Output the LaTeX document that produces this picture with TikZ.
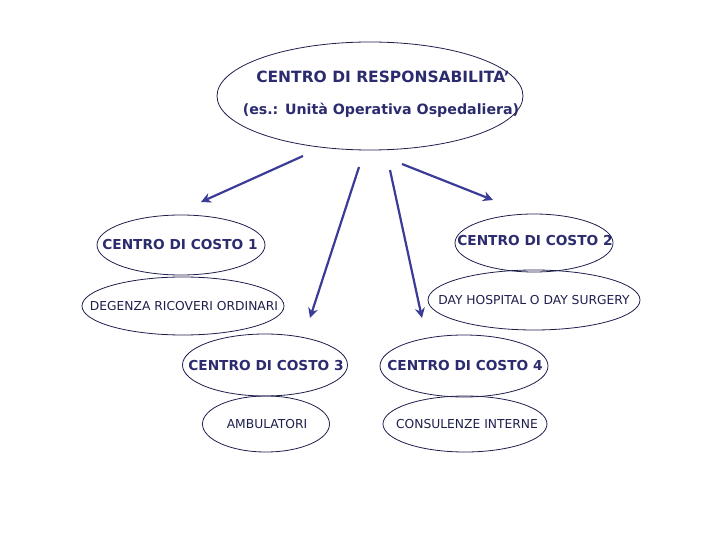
\documentclass[tikz,border=0pt]{standalone}
\usepackage{fontspec}
\setmainfont{DejaVu Sans}
\usetikzlibrary{shapes.geometric,arrows.meta}
\definecolor{navy}{HTML}{2B2B6E}
\definecolor{arrowblue}{HTML}{3B3B98}
\tikzset{
  oval/.style={ellipse, draw=navy!70!black, line width=0.8pt, inner sep=0pt},
  bigtxt/.style={text=navy, inner sep=0pt, font=\fontsize{13.7}{15}\selectfont\bfseries},
  smalltxt/.style={text=navy!70!black, inner sep=0pt, font=\fontsize{12.3}{14}\selectfont},
  arr/.style={draw=arrowblue, line width=2.2pt, -{Stealth[length=10pt,width=10pt]}}
}
\begin{document}
\begin{tikzpicture}[x=1pt,y=-1pt]
\useasboundingbox (0,0) rectangle (720,540);
% ovals
\node[oval, minimum width=306, minimum height=108] (top) at (370,96) {};
\node[oval, minimum width=168, minimum height=60] (c1) at (181,245) {};
\node[oval, minimum width=202, minimum height=58] (d1) at (183,306) {};
\node[oval, minimum width=158, minimum height=58] (c2) at (534,243) {};
\node[oval, minimum width=212, minimum height=60] (d2) at (534,300) {};
\node[oval, minimum width=165, minimum height=62] (c3) at (265,365) {};
\node[oval, minimum width=127, minimum height=56] (d3) at (266,424) {};
\node[oval, minimum width=168, minimum height=62] (c4) at (464,366) {};
\node[oval, minimum width=164, minimum height=56] (d4) at (465,424) {};
% texts
\node[bigtxt, font=\fontsize{15.5}{17}\selectfont\bfseries] (toptA) at (383,77) {CENTRO DI RESPONSABILITA'};
\node[bigtxt, font=\fontsize{14.2}{17}\selectfont\bfseries] (toptB) at (381,110) {(es.: Unità Operativa Ospedaliera)};
\node[bigtxt] (c1t) at (180,245) {CENTRO DI COSTO 1};
\node[smalltxt] (d1t) at (184,306) {DEGENZA RICOVERI ORDINARI};
\node[bigtxt] (c2t) at (535,241) {CENTRO DI COSTO 2};
\node[smalltxt] (d2t) at (534,300) {DAY HOSPITAL O DAY SURGERY};
\node[bigtxt] (c3t) at (266,366) {CENTRO DI COSTO 3};
\node[smalltxt] (d3t) at (267,424) {AMBULATORI};
\node[bigtxt] (c4t) at (465,366) {CENTRO DI COSTO 4};
\node[smalltxt] (d4t) at (467,424) {CONSULENZE INTERNE};
% arrow ends
\coordinate (s1) at (303,156);
\coordinate (e1) at (201,202);
\coordinate (s2) at (359,167);
\coordinate (e2) at (310,318);
\coordinate (s3) at (390,170);
\coordinate (e3) at (422,318);
\coordinate (s4) at (402,164);
\coordinate (e4) at (493,200);
\draw[arr] (s1) -- (e1);
\draw[arr] (s2) -- (e2);
\draw[arr] (s3) -- (e3);
\draw[arr] (s4) -- (e4);
\end{tikzpicture}
\end{document}
